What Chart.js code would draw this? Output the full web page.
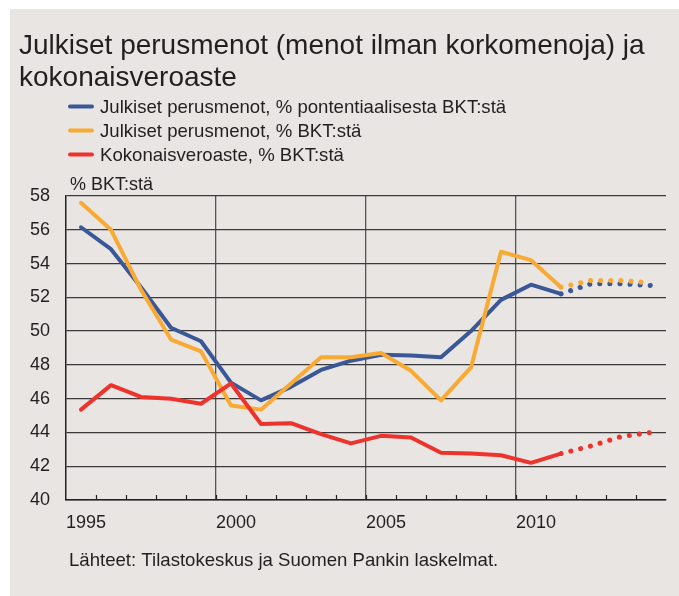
<!DOCTYPE html>
<html>
<head>
<meta charset="utf-8">
<script src="https://cdn.jsdelivr.net/npm/chart.js@4.4.1/dist/chart.umd.min.js"></script>
<style>
  html, body { margin: 0; padding: 0; background: #fff; }
  canvas { display: block; }
</style>
</head>
<body>
<canvas id="chart" width="679" height="596"></canvas>
<script>
// ---- data ----
const years = ['1995','1996','1997','1998','1999','2000','2001','2002','2003','2004',
               '2005','2006','2007','2008','2009','2010','2011','2012','2013','2014'];
const menotPotBkt = [56.15, 54.85, 52.6, 50.2, 49.4, 46.95, 45.9, 46.7, 47.7, 48.25,
                     48.6, 48.55, 48.45, 50.0, 51.85, 52.75, 52.2, 52.8, 52.8, 52.7];
const menotBkt    = [57.6, 56.0, 52.45, 49.5, 48.8, 45.6, 45.35, 46.9, 48.45, 48.45,
                     48.7, 47.65, 45.9, 47.85, 54.7, 54.2, 52.6, 53.0, 53.0, 52.85];
const veroaste    = [45.35, 46.8, 46.1, 46.0, 45.7, 46.9, 44.5, 44.55, 43.9, 43.35,
                     43.8, 43.7, 42.8, 42.75, 42.65, 42.2, 42.75, 43.2, 43.75, 44.0];
const seriesNames = ['Julkiset perusmenot, % pontentiaalisesta BKT:stä',
                     'Julkiset perusmenot, % BKT:stä',
                     'Kokonaisveroaste, % BKT:stä'];
const titleLines = ['Julkiset perusmenot (menot ilman korkomenoja) ja', 'kokonaisveroaste'];
const unitLabel = '% BKT:stä';
const sourceText = 'Lähteet: Tilastokeskus ja Suomen Pankin laskelmat.';
const forecastFrom = 16; // 2011 -> ennuste pisteviivalla

const FONT = "'Liberation Sans', Arial, sans-serif";
const TEXT = '#231f20';
const PANEL = '#e8e5e3';

const isForecast = ctx => ctx.p0DataIndex >= forecastFrom;

function line(label, data, color, order) {
  return {
    label, data, order,
    borderColor: color,
    backgroundColor: color,
    borderWidth: 4,
    borderCapStyle: 'round',
    borderJoinStyle: 'round',
    pointRadius: 0,
    tension: 0,
    segment: {
      borderDash: ctx => isForecast(ctx) ? [0.1, 10] : undefined,
      borderWidth: ctx => isForecast(ctx) ? 5 : undefined
    }
  };
}

// tausta, otsikot, selite ja lähde
const decor = {
  id: 'decor',
  beforeDraw(chart) {
    const c = chart.ctx;
    c.save();
    c.fillStyle = '#fff';
    c.fillRect(0, 0, chart.width, chart.height);
    c.fillStyle = PANEL;
    c.fillRect(10, 9, chart.width - 10, chart.height - 9);
    c.restore();
  },
  afterDraw(chart) {
    const c = chart.ctx;
    const x = chart.scales.x;
    const area = chart.chartArea;
    c.save();
    // pienet väliviivat x-akselille, sisäänpäin
    c.strokeStyle = '#222';
    c.lineWidth = 1.2;
    for (let i = 1; i < years.length; i++) {
      const px = Math.round((x.getPixelForTick(i - 1) + x.getPixelForTick(i)) / 2) + 0.5;
      c.beginPath();
      c.moveTo(px, area.bottom);
      c.lineTo(px, area.bottom - 5);
      c.stroke();
    }
    c.fillStyle = TEXT;
    c.textBaseline = 'alphabetic';
    c.font = '28px ' + FONT;
    c.fillText(titleLines[0], 19, 54);
    c.fillText(titleLines[1], 19, 86);
    c.font = '18.6px ' + FONT;
    chart.data.datasets.forEach((ds, i) => {
      const y = 113 + i * 24;
      c.strokeStyle = ds.borderColor;
      c.lineWidth = 4;
      c.lineCap = 'round';
      c.beginPath();
      c.moveTo(70, y - 6.5);
      c.lineTo(92, y - 6.5);
      c.stroke();
      c.fillText(ds.label, 100, y);
    });
    c.font = '18px ' + FONT;
    c.fillText(unitLabel, 70, 190);
    c.font = '18.6px ' + FONT;
    c.fillText(sourceText, 69, 566);
    c.restore();
  }
};

new Chart(document.getElementById('chart'), {
  type: 'line',
  data: {
    labels: years,
    datasets: [
      line(seriesNames[0], menotPotBkt, '#3a5897', 3),
      line(seriesNames[1], menotBkt, '#f9aa33', 2),
      line(seriesNames[2], veroaste, '#ee322c', 1)
    ]
  },
  options: {
    responsive: false,
    animation: false,
    layout: { padding: { top: 196, right: 13, bottom: 0, left: 0 } },
    plugins: {
      legend: { display: false },
      title: { display: false },
      tooltip: { enabled: false }
    },
    scales: {
      x: {
        type: 'category',
        offset: true,
        afterFit: s => { s.height = 96; },
        grid: {
          offset: true,
          drawTicks: false,
          lineWidth: 1.3,
          color: ctx => (ctx.index % 5 === 0 && ctx.index > 0 && ctx.index < years.length) ? '#555' : 'rgba(0,0,0,0)'
        },
        border: { color: '#222', width: 1.5 },
        ticks: {
          autoSkip: false,
          maxRotation: 0,
          align: 'start',
          labelOffset: -15,
          padding: 12,
          color: TEXT,
          font: { family: FONT, size: 18 },
          callback: function (v, i) { return Number(years[i]) % 5 === 0 ? years[i] : ''; }
        }
      },
      y: {
        min: 40,
        max: 58,
        afterFit: s => { s.width = 66; },
        grid: { color: '#3a3a3a', lineWidth: 1.3, drawTicks: false },
        border: { color: '#222', width: 1.5 },
        ticks: {
          stepSize: 2,
          padding: 16,
          color: TEXT,
          font: { family: FONT, size: 18 }
        }
      }
    }
  },
  plugins: [decor]
});
</script>
</body>
</html>
